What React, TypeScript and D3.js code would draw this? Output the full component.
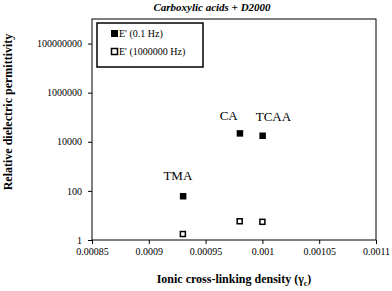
import React, { useRef, useEffect } from "react";
import * as d3 from "d3";

// cross-linking density per acid
const labels = ["TMA", "CA", "TCAA"];
const density = [0.00093, 0.00098, 0.001];
const lowFreq = [62, 22500, 18000]; // E' (0.1 Hz)
const highFreq = [1.75, 5.8, 5.5]; // E' (1000000 Hz)
const yTicks = [1, 100, 10000, 1000000, 100000000];
const xTicks = [0.00085, 0.0009, 0.00095, 0.001, 0.00105, 0.0011];

const App = () => {
  const container = useRef(null);
  const width = 392;
  const height = 291;
  const margin = { left: 92, right: 16, top: 19, bottom: 51 };

  useEffect(() => {
    const svg = d3.select(container.current);
    svg.selectAll("*").remove();
    const font = "'Liberation Serif', 'Times New Roman', serif";

    const x = d3
      .scaleLinear()
      .domain([0.00085, 0.0011])
      .range([margin.left, width - margin.right]);
    const y = d3
      .scaleLog()
      .domain([1, 1e9])
      .range([height - margin.bottom, margin.top]);

    svg
      .append("rect")
      .attr("x", margin.left)
      .attr("y", margin.top)
      .attr("width", width - margin.left - margin.right)
      .attr("height", height - margin.top - margin.bottom)
      .attr("fill", "white")
      .attr("stroke", "#000")
      .attr("stroke-width", 1);

    const yAxis = svg
      .append("g")
      .attr("transform", `translate(${margin.left},0)`)
      .call(
        d3
          .axisLeft(y)
          .tickValues(yTicks)
          .tickFormat((d) => String(d))
          .tickSize(4)
          .tickSizeOuter(0)
      );
    yAxis.select(".domain").remove();
    yAxis.selectAll("text").style("font-family", font).style("font-size", "10px").attr("x", -10);

    const xAxis = svg
      .append("g")
      .attr("transform", `translate(0,${height - margin.bottom})`)
      .call(
        d3
          .axisBottom(x)
          .tickValues(xTicks)
          .tickFormat((d) => String(+(+d).toPrecision(6)))
          .tickSize(4)
          .tickSizeOuter(0)
      );
    xAxis.select(".domain").remove();
    xAxis.selectAll("text").style("font-family", font).style("font-size", "10px").attr("y", 8);

    // filled markers
    svg
      .selectAll(".low")
      .data(density)
      .enter()
      .append("rect")
      .attr("x", (d) => x(d) - 3)
      .attr("y", (d, i) => y(lowFreq[i]) - 3)
      .attr("width", 6.5)
      .attr("height", 6.5)
      .attr("fill", "#000");

    // open markers
    svg
      .selectAll(".high")
      .data(density)
      .enter()
      .append("rect")
      .attr("x", (d) => x(d) - 2.5)
      .attr("y", (d, i) => y(highFreq[i]) - 2.5)
      .attr("width", 5)
      .attr("height", 5)
      .attr("fill", "white")
      .attr("stroke", "#000")
      .attr("stroke-width", 1.5);

    // point labels (nudged like in the original)
    const dx = { TMA: -5, CA: -11, TCAA: 11 };
    const dy = { TMA: -16, CA: -13, TCAA: -15 };
    svg
      .selectAll(".lbl")
      .data(labels)
      .enter()
      .append("text")
      .attr("x", (d, i) => x(density[i]) + dx[d])
      .attr("y", (d, i) => y(lowFreq[i]) + dy[d])
      .attr("text-anchor", "middle")
      .style("font-family", font)
      .style("font-size", "13px")
      .text((d) => d);

    // legend
    const legend = svg.append("g");
    legend
      .append("rect")
      .attr("x", 97)
      .attr("y", 23)
      .attr("width", 106)
      .attr("height", 44)
      .attr("fill", "white")
      .attr("stroke", "#000")
      .attr("stroke-width", 1.5);
    legend
      .append("rect")
      .attr("x", 111)
      .attr("y", 30)
      .attr("width", 7)
      .attr("height", 7)
      .attr("fill", "#000");
    legend
      .append("rect")
      .attr("x", 111.5)
      .attr("y", 48.5)
      .attr("width", 6)
      .attr("height", 6)
      .attr("fill", "white")
      .attr("stroke", "#000")
      .attr("stroke-width", 1.5);
    legend
      .selectAll("text")
      .data(["E' (0.1 Hz)", "E' (1000000 Hz)"])
      .enter()
      .append("text")
      .attr("x", 119)
      .attr("y", (d, i) => 37 + i * 18)
      .style("font-family", font)
      .style("font-size", "10px")
      .text((d) => d);

    // title and axis labels
    svg
      .append("text")
      .attr("x", 212)
      .attr("y", 11)
      .attr("text-anchor", "middle")
      .style("font-family", font)
      .style("font-size", "11px")
      .style("font-weight", "bold")
      .style("font-style", "italic")
      .text("Carboxylic acids + D2000");

    svg
      .append("text")
      .attr("transform", `translate(12,112) rotate(-90)`)
      .attr("text-anchor", "middle")
      .style("font-family", font)
      .style("font-size", "12px")
      .style("font-weight", "bold")
      .text("Relative dielectric permittivity");

    const xl = svg
      .append("text")
      .attr("x", 234)
      .attr("y", 283)
      .attr("text-anchor", "middle")
      .style("font-family", font)
      .style("font-size", "12px")
      .style("font-weight", "bold");
    xl.append("tspan").text("Ionic cross-linking density (γ");
    xl.append("tspan").attr("dy", 3).style("font-size", "8px").text("c");
    xl.append("tspan").attr("dy", -3).text(")");
  }, []);

  return (
    <div style={{ position: "absolute", left: 0, top: 0, width: width, height: height }}>
      <svg ref={container} width={width} height={height} style={{ display: "block", background: "white" }} />
    </div>
  );
};

export default App;
